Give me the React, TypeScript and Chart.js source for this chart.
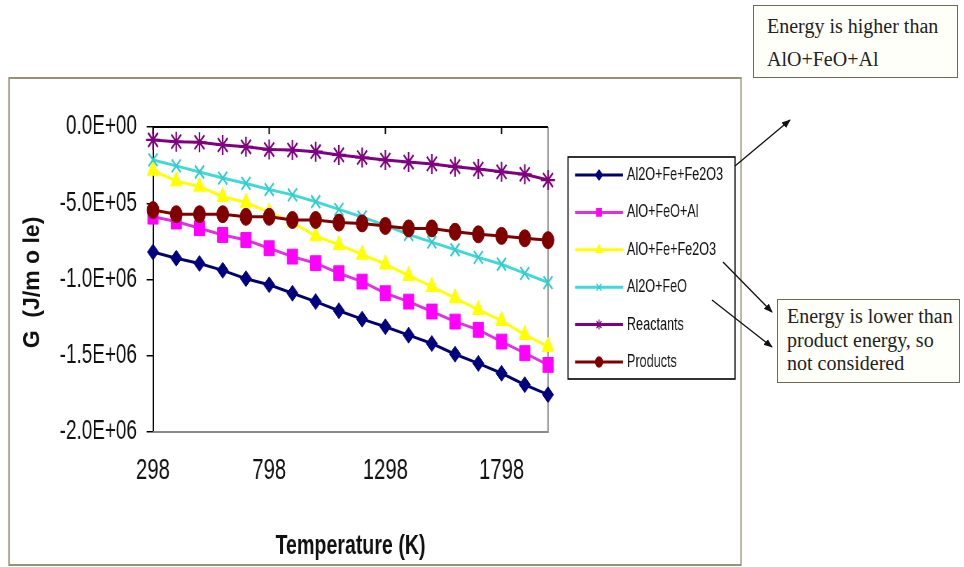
import React, { useEffect, useRef } from 'react';
import { Chart, registerables } from 'chart.js';
import { drawPoint } from 'chart.js/helpers';

Chart.register(...registerables);

// ---------------- data ----------------
const TEMPERATURES = ['298', '398', '498', '598', '698', '798', '898', '998', '1098', '1198', '1298', '1398', '1498', '1598', '1698', '1798', '1898', '1998'];
const X_TICK_LABELS = ['298', '798', '1298', '1798'];
const Y_MIN = -2.0e6;
const Y_MAX = 0;
const Y_STEP = 5.0e5;

const AL2O_FE_FE2O3 = [-0.82e6, -0.86e6, -0.895e6, -0.94e6, -0.995e6, -1.035e6, -1.09e6, -1.145e6, -1.205e6, -1.26e6, -1.31e6, -1.365e6, -1.42e6, -1.49e6, -1.55e6, -1.615e6, -1.69e6, -1.755e6];
const ALO_FEO_AL = [-0.588e6, -0.62e6, -0.664e6, -0.708e6, -0.741e6, -0.795e6, -0.85e6, -0.893e6, -0.959e6, -1.014e6, -1.09e6, -1.145e6, -1.21e6, -1.276e6, -1.33e6, -1.407e6, -1.483e6, -1.56e6];
const ALO_FE_FE2O3 = [-0.285e6, -0.355e6, -0.39e6, -0.457e6, -0.495e6, -0.56e6, -0.625e6, -0.715e6, -0.773e6, -0.836e6, -0.9e6, -0.975e6, -1.047e6, -1.122e6, -1.199e6, -1.27e6, -1.363e6, -1.44e6];
const AL2O_FEO = [-0.216e6, -0.255e6, -0.295e6, -0.335e6, -0.37e6, -0.41e6, -0.445e6, -0.49e6, -0.54e6, -0.59e6, -0.645e6, -0.705e6, -0.755e6, -0.805e6, -0.855e6, -0.9e6, -0.96e6, -1.02e6];
const REACTANTS = [-0.085e6, -0.096e6, -0.1e6, -0.118e6, -0.13e6, -0.148e6, -0.151e6, -0.162e6, -0.183e6, -0.2e6, -0.217e6, -0.23e6, -0.242e6, -0.26e6, -0.276e6, -0.294e6, -0.31e6, -0.348e6];
const PRODUCTS = [-0.545e6, -0.572e6, -0.572e6, -0.572e6, -0.589e6, -0.589e6, -0.61e6, -0.61e6, -0.627e6, -0.632e6, -0.649e6, -0.665e6, -0.665e6, -0.687e6, -0.704e6, -0.714e6, -0.73e6, -0.742e6];

const SERIES_LABELS = ['Al2O+Fe+Fe2O3', 'AlO+FeO+Al', 'AlO+Fe+Fe2O3', 'Al2O+FeO', 'Reactants', 'Products'];
const SERIES_VALUES = [AL2O_FE_FE2O3, ALO_FEO_AL, ALO_FE_FE2O3, AL2O_FEO, REACTANTS, PRODUCTS];
const LINE_COLORS = ['#000070', '#e030e0', '#ffff00', '#40d8d8', '#800080', '#800000'];
const MARKER_COLORS = ['#000080', '#ff00ff', '#ffff00', '#33cccc', '#800080', '#800000'];
const POINT_STYLES = ['rectRot', 'rect', 'triangle', 'crossRot', 'star', 'circle'];
const POINT_RADII = [8, 10.5, 9.5, 9, 10, 8.5];

const Y_TITLE = 'G  (J/m o le)';
const X_TITLE = 'Temperature (K)';

// ---------------- geometry (real px) ----------------
const W = 964;
const H = 567;
const K = 0.7; // horizontal squeeze of the original chart picture
const CW = Math.round(W / K);
const sx = (x: number) => (x * CW) / W;

const FONT = '"Liberation Sans", Arial, Helvetica, sans-serif';

function fmtExp(v: number): string {
  if (v === 0) return '0.0E+00';
  const e = Math.floor(Math.log10(Math.abs(v)) + 1e-9);
  const m = v / Math.pow(10, e);
  return `${m.toFixed(1)}E${e >= 0 ? '+' : '-'}${String(Math.abs(e)).padStart(2, '0')}`;
}

const decorPlugin = {
  id: 'decor',
  beforeDatasetsDraw(chart: any) {
    const { ctx, chartArea: a, scales } = chart;
    const x = scales.x;
    const y = scales.y;
    ctx.save();
    ctx.strokeStyle = '#8a8a8a';
    ctx.lineWidth = 2;
    ctx.beginPath();
    ctx.moveTo(a.left, a.bottom);
    ctx.lineTo(a.right, a.bottom);
    ctx.lineTo(a.right, a.top);
    ctx.stroke();
    const y0 = y.getPixelForValue(0);
    ctx.strokeStyle = '#000';
    ctx.lineWidth = 2;
    ctx.beginPath();
    ctx.moveTo(a.left, y0);
    ctx.lineTo(a.right, y0);
    ctx.stroke();
    TEMPERATURES.forEach((t, i) => {
      if (X_TICK_LABELS.includes(t)) {
        const px = x.getPixelForValue(i);
        ctx.beginPath();
        ctx.moveTo(px, y0);
        ctx.lineTo(px, y0 + 7);
        ctx.stroke();
      }
    });
    ctx.restore();
  },
  afterDraw(chart: any) {
    const { ctx, chartArea: a } = chart;
    ctx.save();
    // outer chart frame
    ctx.strokeStyle = '#9a9274';
    ctx.lineWidth = 2;
    ctx.strokeRect(sx(9), 78, sx(741) - sx(9), 565 - 78);
    // y-axis title (drawn unsqueezed)
    ctx.save();
    ctx.translate(sx(33), (a.top + a.bottom) / 2 + 3);
    ctx.scale(CW / W, 1);
    ctx.rotate(-Math.PI / 2);
    ctx.fillStyle = '#111';
    ctx.font = `bold 23px ${FONT}`;
    ctx.textAlign = 'center';
    ctx.textBaseline = 'middle';
    ctx.fillText(Y_TITLE, 0, 0);
    ctx.restore();
    // legend box
    const lx0 = sx(568);
    const lx1 = sx(735);
    ctx.strokeStyle = '#000';
    ctx.lineWidth = 1.6;
    ctx.strokeRect(lx0, 157, lx1 - lx0, 222);
    chart.data.datasets.forEach((ds: any, i: number) => {
      const yy = 175 + i * 37.4;
      ctx.strokeStyle = ds.borderColor;
      ctx.lineWidth = 3;
      ctx.beginPath();
      ctx.moveTo(sx(575), yy);
      ctx.lineTo(sx(623), yy);
      ctx.stroke();
      ctx.fillStyle = ds.pointBackgroundColor;
      ctx.strokeStyle = ds.pointBorderColor;
      ctx.lineWidth = 1.5;
      drawPoint(ctx, { pointStyle: ds.pointStyle, radius: 5, rotation: 0, borderWidth: 1.5 } as any, sx(599), yy);
      ctx.fillStyle = '#111';
      ctx.font = `18px ${FONT}`;
      ctx.textAlign = 'left';
      ctx.textBaseline = 'middle';
      ctx.fillText(ds.label, sx(627), yy);
    });
    ctx.restore();
  },
};

function ChartCanvas() {
  const ref = useRef<HTMLCanvasElement | null>(null);
  useEffect(() => {
    if (!ref.current) return;
    const n = SERIES_LABELS.length;
    const datasets = SERIES_LABELS.map((label, i) => ({
      label,
      data: SERIES_VALUES[i],
      borderColor: LINE_COLORS[i],
      backgroundColor: MARKER_COLORS[i],
      pointBackgroundColor: MARKER_COLORS[i],
      pointBorderColor: MARKER_COLORS[i],
      pointStyle: POINT_STYLES[i],
      pointRadius: POINT_RADII[i],
      pointBorderWidth: POINT_STYLES[i] === 'crossRot' || POINT_STYLES[i] === 'star' ? 2.2 : 1,
      borderWidth: 3,
      tension: 0,
      fill: false,
      order: n - i,
    }));
    const chart = new Chart(ref.current, {
      type: 'line',
      data: { labels: TEMPERATURES, datasets },
      plugins: [decorPlugin],
      options: {
        animation: false,
        responsive: false,
        devicePixelRatio: 1,
        maintainAspectRatio: false,
        layout: { padding: { left: 0, top: 127, right: CW - sx(548), bottom: 0 } },
        plugins: { legend: { display: false }, tooltip: { enabled: false } },
        font: { family: FONT },
        scales: {
          x: {
            type: 'category',
            offset: false,
            grid: { display: false, drawTicks: false },
            border: { display: false },
            ticks: {
              autoSkip: false,
              maxRotation: 0,
              minRotation: 0,
              padding: 22,
              color: '#111',
              font: { family: FONT, size: 29 },
              callback: (_v: any, idx: number) => (X_TICK_LABELS.includes(TEMPERATURES[idx]) ? TEMPERATURES[idx] : ''),
            },
            title: {
              display: true,
              text: X_TITLE,
              color: '#111',
              font: { family: FONT, size: 28, weight: 'bold' },
              padding: { top: 0, bottom: 4 },
            },
            afterFit: (s: any) => {
              s.height = H - 432;
            },
          },
          y: {
            type: 'linear',
            min: Y_MIN,
            max: Y_MAX,
            grid: { drawOnChartArea: false, drawTicks: true, tickLength: 9, color: '#000', lineWidth: 1.5 },
            border: { display: true, color: '#000', width: 2 },
            ticks: {
              stepSize: Y_STEP,
              padding: 14,
              color: '#111',
              font: { family: FONT, size: 27 },
              callback: (v: any) => fmtExp(Number(v)),
            },
            title: { display: false },
            afterFit: (s: any) => {
              s.width = sx(153);
            },
          },
        },
      } as any,
    });
    return () => chart.destroy();
  }, []);
  return (
    <canvas
      ref={ref}
      width={CW}
      height={H}
      style={{ position: 'absolute', left: 0, top: 0, width: `${W}px`, height: `${H}px`, display: 'block' }}
    />
  );
}

const boxStyle: React.CSSProperties = {
  position: 'absolute',
  boxSizing: 'border-box',
  border: '1.5px solid #6e6a5a',
  background: '#fffffa',
  fontFamily: '"Liberation Serif", "Times New Roman", serif',
  fontSize: '20px',
  color: '#222',
  whiteSpace: 'nowrap',
};

export default function App() {
  return (
    <div style={{ position: 'fixed', left: 0, top: 0, width: W, height: H, background: '#fff', overflow: 'hidden' }}>
      <ChartCanvas />
      <div style={{ ...boxStyle, left: 753, top: 5, width: 205, height: 73, paddingLeft: 13, paddingTop: 4, lineHeight: '33px' }}>
        <div>Energy is higher than</div>
        <div>AlO+FeO+Al</div>
      </div>
      <div style={{ ...boxStyle, left: 777, top: 299, width: 183, height: 84, paddingLeft: 9, paddingTop: 5, lineHeight: '23.5px' }}>
        <div>Energy is lower than</div>
        <div>product energy, so</div>
        <div>not considered</div>
      </div>
      <svg width={W} height={H} style={{ position: 'absolute', left: 0, top: 0, pointerEvents: 'none' }}>
        <defs>
          <marker id="ah" viewBox="0 0 10 10" refX="9" refY="5" markerWidth="9" markerHeight="9" orient="auto-start-reverse" markerUnits="userSpaceOnUse">
            <path d="M0,1 L10,5 L0,9 z" fill="#111" />
          </marker>
        </defs>
        <line x1={735} y1={166} x2={790} y2={120} stroke="#111" strokeWidth={1.3} markerEnd="url(#ah)" />
        <line x1={723} y1={262} x2={772} y2={312} stroke="#111" strokeWidth={1.3} markerEnd="url(#ah)" />
        <line x1={712} y1={300} x2={772} y2={347} stroke="#111" strokeWidth={1.3} markerEnd="url(#ah)" />
      </svg>
    </div>
  );
}
